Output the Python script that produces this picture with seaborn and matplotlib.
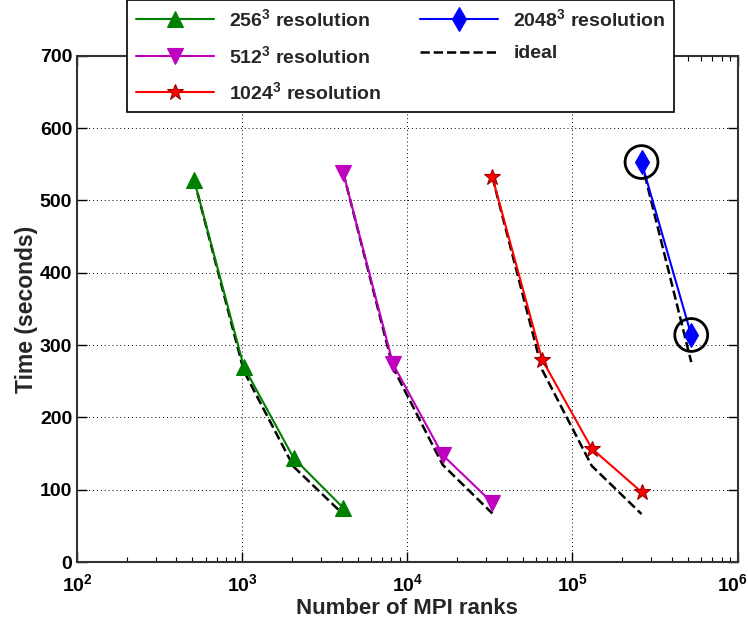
import matplotlib
matplotlib.use("Agg")
import matplotlib.pyplot as plt
import matplotlib.transforms as mtransforms
import seaborn as sns
import numpy as np

# Strong-scaling timings per grid resolution
ranks_256 = [512, 1024, 2048, 4096]
time_256 = [528, 270, 144, 75]

ranks_512 = [4096, 8192, 16384, 32768]
time_512 = [538, 274, 148, 82]

ranks_1024 = [32768, 65536, 131072, 262144]
time_1024 = [532, 280, 157, 97]

ranks_2048 = [262144, 524288]
time_2048 = [553, 314]

series = [
    ("256$^3$ resolution", ranks_256, time_256, "#008000", "^", 12),
    ("512$^3$ resolution", ranks_512, time_512, "#bf00bf", "v", 12),
    ("1024$^3$ resolution", ranks_1024, time_1024, "#ff0000", "*", 12),
    ("2048$^3$ resolution", ranks_2048, time_2048, "#0000ff", "d", 12),
]

sns.set_theme(style="ticks")
plt.rcParams["font.family"] = ["Liberation Sans", "DejaVu Sans"]
plt.rcParams["font.weight"] = "bold"
plt.rcParams["mathtext.fontset"] = "custom"
plt.rcParams["mathtext.rm"] = "Liberation Sans:bold"
plt.rcParams["mathtext.bf"] = "Liberation Sans:bold"
plt.rcParams["mathtext.it"] = "Liberation Sans:bold"
plt.rcParams["mathtext.default"] = "rm"

fig = plt.figure(figsize=(7.48, 6.26), dpi=100)
ax = fig.add_axes([0.103, 0.102, 0.883, 0.809])

for label, xs, ys, col, mk, ms in series:
    sns.lineplot(x=xs, y=ys, color=col, marker=mk, markersize=ms,
                 markeredgecolor=col if mk != "*" else "#990000",
                 markeredgewidth=0.8, linewidth=1.5, ax=ax, label=label,
                 estimator=None, sort=False)
    # ideal scaling from the first measurement
    ideal = [ys[0] * xs[0] / x for x in xs]
    sns.lineplot(x=xs, y=ideal, color="black", linestyle="--", linewidth=1.8,
                 ax=ax, estimator=None, sort=False, zorder=1,
                 label="ideal" if label.startswith("2048") else "_nolegend_")

# highlight the largest runs
sns.scatterplot(x=ranks_2048, y=time_2048, s=560, facecolor="none",
                edgecolor="black", linewidth=2, ax=ax, zorder=5)

ax.set_xscale("log")
ax.set_xlim(1e2, 1e6)
ax.set_ylim(0, 700)
ax.set_xticks([1e2, 1e3, 1e4, 1e5, 1e6])
ax.set_yticks(np.arange(0, 701, 100))
ax.grid(True, which="major", color="black", linestyle=(0, (1, 3)), linewidth=0.7)
ax.tick_params(which="both", direction="in", top=True, right=True,
               labelsize=14, colors="black")
ax.tick_params(axis="x", which="major", pad=8)
ax.tick_params(which="major", length=7, width=1)
ax.tick_params(which="minor", length=3.5, width=0.8)
for lbl in ax.get_xticklabels() + ax.get_yticklabels():
    lbl.set_fontweight("bold")
# keep the rightmost decade label inside the canvas
last = ax.get_xticklabels()[-1]
last.set_transform(last.get_transform() +
                   mtransforms.ScaledTranslation(-0.05, 0, fig.dpi_scale_trans))
for sp in ax.spines.values():
    sp.set_color("#333333")
    sp.set_linewidth(1.5)

ax.set_xlabel("Number of MPI ranks", fontsize=16, fontweight="bold", labelpad=2)
ax.set_ylabel("Time (seconds)", fontsize=16.5, fontweight="bold", labelpad=1.5)

h, l = ax.get_legend_handles_labels()
order = ["256$^3$ resolution", "512$^3$ resolution", "1024$^3$ resolution",
         "2048$^3$ resolution", "ideal"]
hh = [h[l.index(o)] for o in order]
leg = ax.legend(hh, order, ncol=2, loc="upper center",
                bbox_to_anchor=(0.49, 1.13), frameon=True,
                fancybox=False, edgecolor="black", framealpha=1,
                handlelength=4.0, columnspacing=2.0, borderpad=0.45,
                labelspacing=0.75, prop={"weight": "bold", "size": 14})
leg.get_frame().set_linewidth(1.2)

fig.savefig("out.png", dpi=100)
